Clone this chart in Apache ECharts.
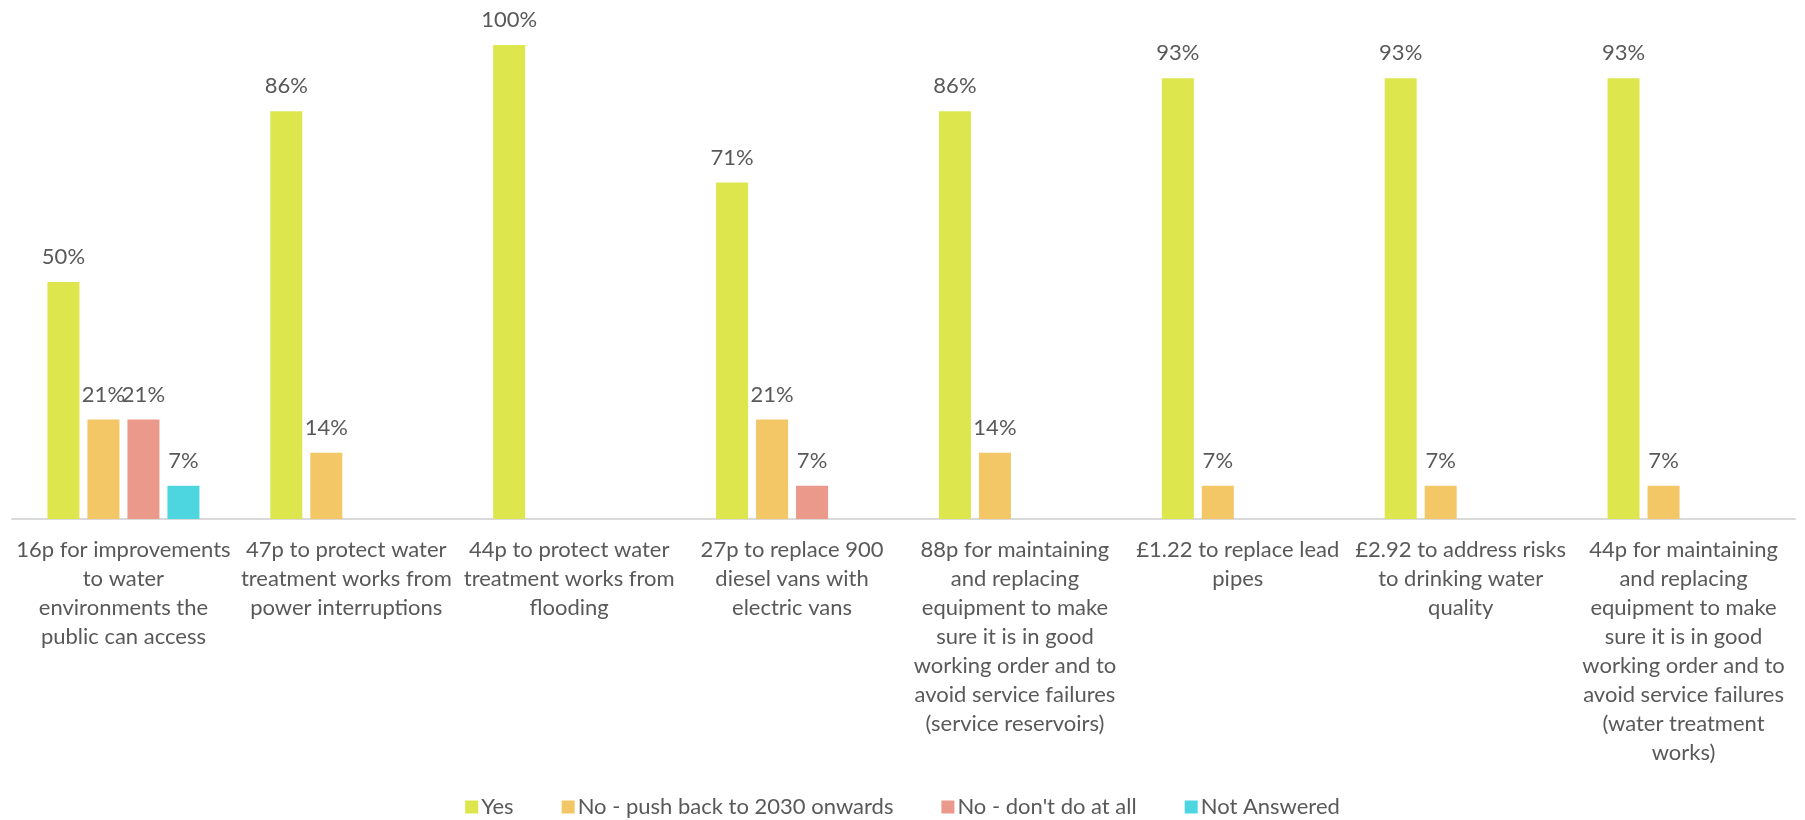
<!DOCTYPE html>
<html>
<head>
<meta charset="utf-8">
<script src="https://cdn.jsdelivr.net/npm/echarts@6/dist/echarts.min.js"></script>
<style>
  html, body { margin: 0; padding: 0; background: #ffffff; }
  #chart { width: 1805px; height: 820px; }
</style>
</head>
<body>
<div id="chart"></div>
<script>
// Investment options and how respondents answered each one (% of respondents)
const categories = [
  '16p for improvements\nto water\nenvironments the\npublic can access',
  '47p to protect water\ntreatment works from\npower interruptions',
  '44p to protect water\ntreatment works from\nflooding',
  '27p to replace 900\ndiesel vans with\nelectric vans',
  '88p for maintaining\nand replacing\nequipment to make\nsure it is in good\nworking order and to\navoid service failures\n(service reservoirs)',
  '£1.22 to replace lead\npipes',
  '£2.92 to address risks\nto drinking water\nquality',
  '44p for maintaining\nand replacing\nequipment to make\nsure it is in good\nworking order and to\navoid service failures\n(water treatment\nworks)'
];

const seriesNames = ['Yes', 'No - push back to 2030 onwards', "No - don't do at all", 'Not Answered'];

const yesValues       = [50, 86, 100, 71, 86, 93, 93, 93];
const pushBackValues  = [21, 14, null, 21, 14, 7, 7, 7];
const dontDoValues    = [21, null, null, 7, null, null, null, null];
const notAnswerValues = [7, null, null, null, null, null, null, null];

const seriesColors = ['#DDE64C', '#F3C766', '#EB998A', '#4DD5E0'];

const FONT = 'Lato, "Open Sans", sans-serif';
const TEXT = '#595959';

function makeSeries(name, values, color) {
  return {
    name: name,
    type: 'bar',
    data: values,
    barWidth: 32,
    barGap: '25%',
    itemStyle: { color: color },
    label: {
      show: true,
      position: 'top',
      distance: 14,
      color: TEXT,
      fontFamily: FONT,
      fontSize: 22,
      formatter: p => (p.value == null ? '' : p.value + '%')
    }
  };
}

const chart = echarts.init(document.getElementById('chart'), null, { renderer: 'canvas' });

chart.setOption({
  backgroundColor: '#ffffff',
  animation: false,
  grid: { left: 12, right: 10, top: 45, bottom: 301, containLabel: false },
  legend: {
    data: seriesNames,
    top: 796,
    left: 'center',
    padding: 0,
    icon: 'rect',
    itemWidth: 13,
    itemHeight: 13,
    itemGap: 48,
    textStyle: { color: TEXT, fontFamily: FONT, fontSize: 22, padding: [0, 0, 0, -2] }
  },
  xAxis: {
    type: 'category',
    data: categories,
    axisLine: { show: true, lineStyle: { color: '#D9D9D9', width: 2 } },
    axisTick: { show: false },
    axisLabel: {
      interval: 0,
      margin: 16,
      color: TEXT,
      fontFamily: FONT,
      fontSize: 22,
      lineHeight: 29,
      align: 'center'
    }
  },
  yAxis: {
    type: 'value',
    min: 0,
    max: 100,
    show: false,
    splitLine: { show: false }
  },
  series: [
    makeSeries(seriesNames[0], yesValues, seriesColors[0]),
    makeSeries(seriesNames[1], pushBackValues, seriesColors[1]),
    makeSeries(seriesNames[2], dontDoValues, seriesColors[2]),
    makeSeries(seriesNames[3], notAnswerValues, seriesColors[3])
  ]
});
</script>
</body>
</html>
